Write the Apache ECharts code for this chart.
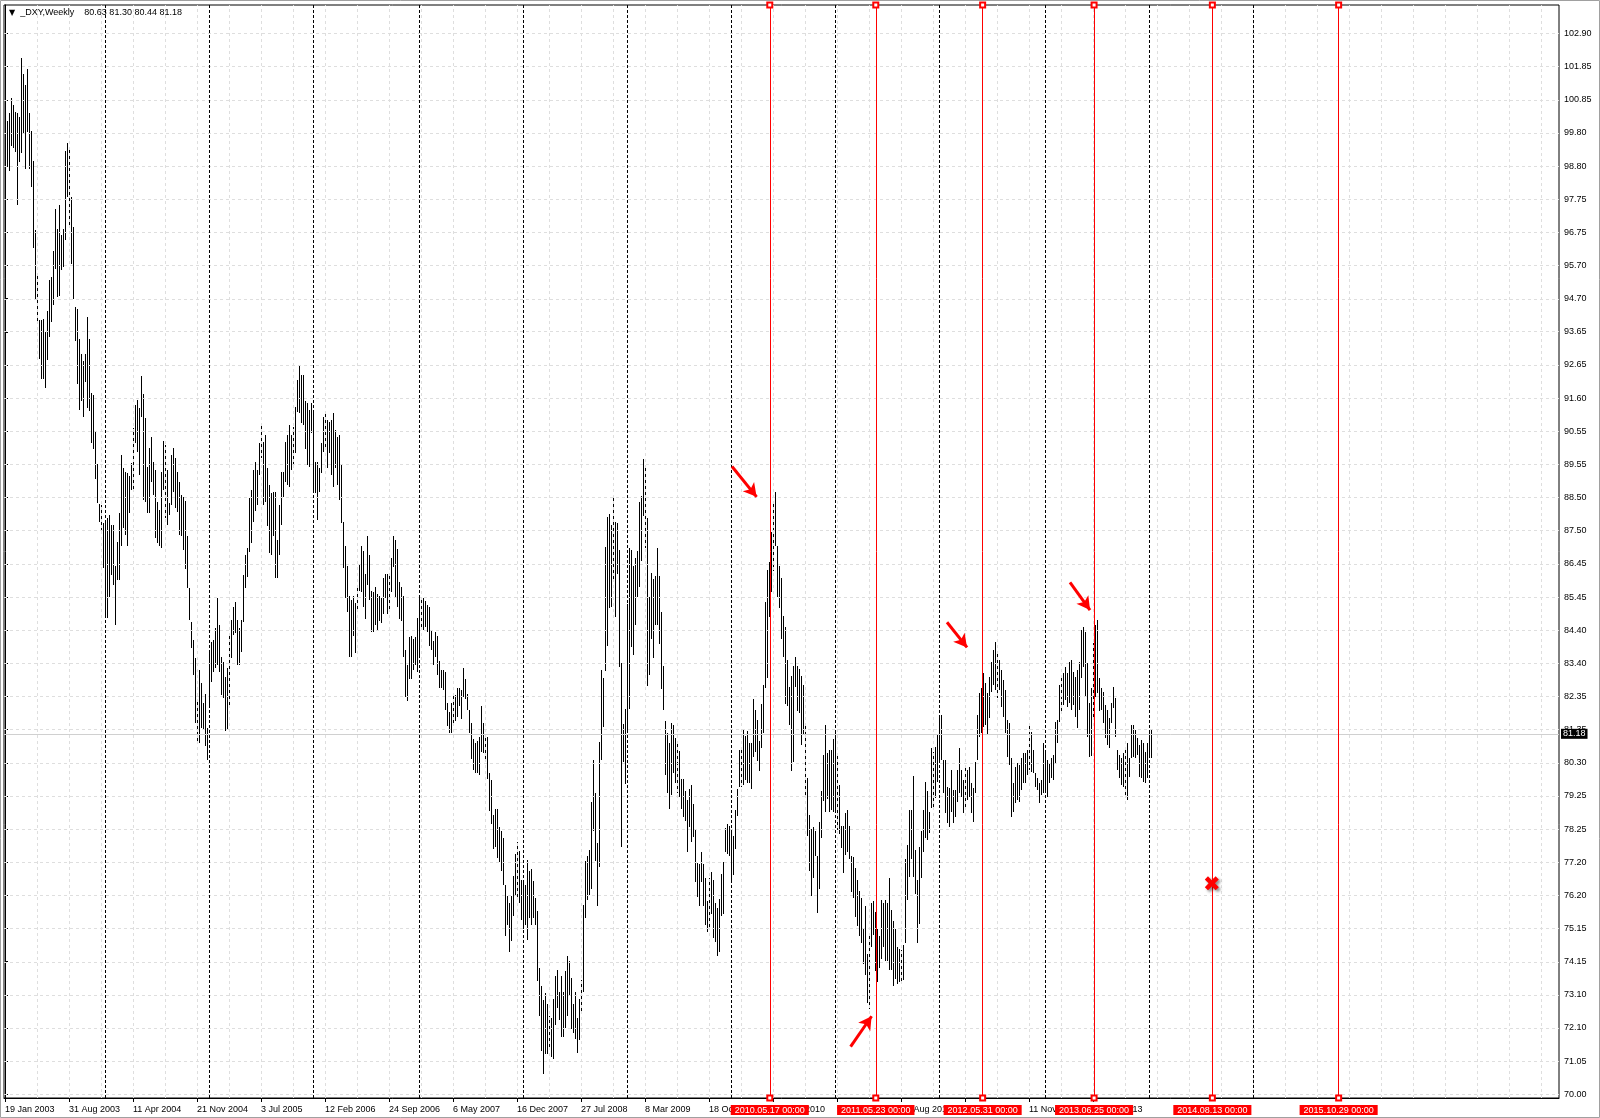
<!DOCTYPE html>
<html lang="en">
<head>
<meta charset="UTF-8">
<title>_DXY,Weekly</title>
<script src="https://cdn.jsdelivr.net/npm/echarts@6/dist/echarts.min.js"></script>
<style>
    html, body { margin: 0; padding: 0; background: #fff; }
    #chart { width: 1600px; height: 1118px; }
</style>
</head>
<body>
<div id="chart"></div>
<script type="text/javascript">
// header of the chart window
const symbolName = '_DXY,Weekly';
const lastBar = [80.63, 81.30, 80.44, 81.18]; // open high low close of the last week
const firstWeek = [2003, 1, 19];               // date of the first weekly bar
const weeksOnScreen = 777;                     // visible weeks incl. empty future

// weekly highs, one per bar from 19 Jan 2003
const highs = [
    // 0
    100.95,100.18,100.42,100.90,100.69,100.48,100.42,100.30,102.14,101.64,
    101.31,101.81,100.42,99.88,98.96,96.82,95.37,94.00,94.00,94.04,
    93.65,94.28,95.27,95.35,96.14,97.45,96.85,97.57,96.65,96.85,
    99.27,99.50,99.39,97.84,96.89,94.42,94.36,93.41,92.97,92.75,
    92.95,94.12,93.41,91.74,91.68,90.56,89.55,88.30,88.28,87.71,
    // 50
    87.80,87.86,87.97,87.66,87.66,86.37,87.14,88.02,89.83,89.42,
    89.31,89.26,89.19,89.57,90.66,91.38,91.53,91.28,92.29,91.71,
    90.97,89.47,90.04,90.40,89.62,89.36,88.38,88.12,89.31,90.26,
    90.14,89.36,88.33,89.83,90.04,89.73,89.31,89.00,88.59,88.54,
    88.40,87.30,85.69,84.66,84.09,83.52,82.18,83.16,82.75,82.13,
    // 100
    82.40,81.35,83.78,84.04,84.09,84.45,85.40,84.56,83.57,83.42,
    82.95,83.21,84.25,84.71,85.12,85.28,84.71,84.45,84.71,86.11,
    86.73,86.93,88.48,88.74,89.36,89.60,89.36,90.19,90.76,90.24,
    90.45,89.42,88.90,88.64,88.69,88.69,87.19,88.28,89.31,89.31,
    90.24,90.45,90.76,90.45,90.71,91.33,92.15,92.62,92.31,92.31,
    // 150
    91.50,91.43,91.22,91.43,91.12,89.62,89.62,89.42,90.19,91.02,
    91.12,90.91,90.86,90.91,91.12,90.60,90.40,90.45,89.52,87.76,
    87.00,86.37,85.46,85.34,85.46,85.23,85.74,86.46,87.02,86.86,
    86.13,87.31,86.74,85.62,85.57,85.74,85.51,85.46,85.40,86.02,
    86.13,86.13,86.18,86.63,87.31,87.19,86.91,85.90,85.74,85.46,
    // 200
    83.77,83.32,84.17,84.22,84.11,84.17,84.78,85.40,85.34,85.40,
    85.29,85.17,85.12,84.39,84.05,84.33,84.22,83.44,83.16,83.16,
    83.10,82.15,81.87,82.15,82.37,82.37,82.60,82.60,82.54,83.21,
    82.88,82.43,81.92,81.53,81.03,80.91,80.97,81.08,82.04,81.53,
    81.14,81.08,79.96,79.74,78.67,78.84,78.84,78.28,78.17,77.94,
    // 250
    76.48,76.15,75.92,76.15,76.77,77.44,77.83,77.55,76.65,76.60,
    76.48,77.27,76.93,76.99,76.60,76.09,75.67,73.92,73.36,72.92,
    73.13,72.79,72.42,72.38,72.97,73.66,73.85,73.16,73.66,73.16,
    73.82,74.28,74.12,73.60,72.79,73.16,72.38,72.97,73.54,75.88,
    77.23,77.38,77.58,79.08,80.36,79.35,77.79,80.92,83.15,82.90,
    // 300
    86.98,87.91,88.01,87.66,88.49,87.74,87.71,86.89,83.38,81.48,
    81.94,85.22,86.94,86.88,86.38,86.63,86.84,88.36,88.55,89.71,
    89.53,87.87,85.43,86.18,85.99,86.06,86.94,86.06,84.96,83.29,
    81.59,81.21,80.90,81.53,81.46,81.06,80.90,80.65,79.78,79.78,
    79.40,79.12,79.47,79.59,78.99,78.21,77.18,77.15,77.53,77.15,
    // 350
    76.71,75.99,76.71,76.90,76.65,75.94,75.78,76.07,76.82,77.20,
    78.26,78.39,78.32,78.17,78.00,78.82,79.48,80.68,80.73,81.33,
    81.11,81.28,80.90,80.90,82.26,81.93,81.60,80.95,82.09,82.70,
    85.26,86.26,86.50,87.44,88.36,88.69,87.00,86.40,86.02,84.82,
    84.49,83.46,82.64,82.97,83.29,83.57,83.29,83.19,82.97,82.70,
    // 400
    81.50,79.81,78.66,78.22,78.28,78.17,77.40,78.44,79.42,80.51,
    81.44,80.57,80.68,80.68,81.01,81.28,80.60,79.59,78.33,78.33,
    78.71,78.82,78.33,77.40,77.35,77.02,76.64,76.31,76.09,75.17,
    75.83,74.35,74.90,75.93,75.99,75.66,75.12,74.90,76.04,75.93,
    76.04,75.93,76.70,75.72,75.39,75.12,74.57,74.52,74.46,74.63,
    // 450
    77.30,77.73,78.82,78.82,79.86,77.57,76.64,77.68,78.17,78.82,
    79.70,79.42,78.77,80.73,80.63,80.78,81.14,81.71,81.76,80.37,
    80.37,79.54,79.49,80.06,79.44,79.44,80.06,80.73,80.06,79.75,
    80.16,80.06,80.16,79.64,79.49,80.32,81.76,82.44,82.60,83.06,
    82.75,82.44,82.95,83.42,83.78,84.04,83.68,83.47,83.16,82.85,
    // 500
    82.54,81.61,81.50,80.42,79.64,80.16,80.26,80.21,80.42,80.57,
    80.57,80.68,81.45,81.25,80.68,79.95,79.80,79.64,79.75,80.88,
    80.68,80.37,80.26,80.42,80.52,81.56,81.61,82.69,82.90,83.06,
    83.26,83.06,83.42,83.47,83.11,82.95,83.16,83.42,84.40,84.50,
    84.35,83.37,82.13,82.60,84.00,84.55,84.71,82.90,82.59,82.49,
    // 550
    82.07,81.92,81.66,82.13,82.64,82.28,80.68,80.52,80.42,80.57,
    80.73,80.88,80.42,81.45,81.45,81.30,81.04,80.83,80.99,80.88,
    80.63,80.88,81.25,81.30
];

// weekly lows, same order
const lows = [
    // 0
    99.11,98.76,98.64,99.41,99.35,99.23,97.57,98.90,99.20,99.77,
    98.70,99.83,98.70,98.13,96.26,94.68,93.94,92.81,92.18,92.18,
    91.90,92.78,93.49,93.94,94.48,95.61,94.72,94.77,95.55,95.67,
    96.50,97.84,96.89,95.75,94.68,93.35,92.04,91.23,91.51,91.00,
    92.10,91.30,91.19,90.20,90.02,89.07,88.33,87.74,87.40,86.31,
    // 50
    84.80,84.76,85.43,86.11,85.80,84.56,85.95,85.95,86.99,87.55,
    87.35,86.99,88.02,88.74,88.74,90.19,89.93,89.21,91.02,88.43,
    88.38,88.02,88.02,89.00,88.59,87.24,87.09,86.99,86.95,88.74,
    87.86,87.66,87.97,88.28,88.69,88.17,88.07,87.35,87.30,86.88,
    86.30,85.69,84.71,83.83,83.00,81.51,80.89,80.89,81.35,81.30,
    // 100
    80.80,80.37,81.97,82.80,83.11,83.21,83.32,83.11,82.38,82.28,
    81.27,81.30,82.02,83.52,84.25,84.30,83.32,83.32,83.73,84.66,
    85.69,86.05,86.83,87.09,87.76,88.10,88.28,89.21,89.73,88.28,
    88.38,87.61,86.78,86.73,87.30,86.00,86.00,86.73,87.66,88.54,
    89.00,88.90,88.85,89.36,89.52,89.88,91.17,91.12,90.81,90.76,
    // 150
    90.00,89.52,89.47,90.50,88.69,88.64,87.81,88.69,89.26,89.93,
    90.09,89.42,89.88,89.21,88.85,89.42,88.90,88.43,87.71,86.31,
    85.40,84.97,83.57,83.57,84.22,83.68,85.01,85.62,85.57,85.12,
    84.73,85.79,85.34,84.33,84.33,84.56,84.39,84.67,84.61,84.89,
    85.40,84.89,85.01,85.57,86.35,85.40,85.12,84.73,84.67,83.55,
    // 200
    82.32,82.20,82.88,82.88,83.16,83.32,83.10,83.55,84.45,84.39,
    84.50,84.33,83.89,83.77,83.32,83.55,82.99,82.60,82.60,82.54,
    81.92,81.42,81.19,81.19,81.47,81.59,81.70,82.04,81.64,82.32,
    82.26,81.92,81.19,80.41,80.07,79.96,79.96,79.90,80.63,80.58,
    80.41,79.79,78.78,78.39,77.61,77.66,77.33,77.21,76.93,76.48,
    // 250
    74.91,75.25,74.41,74.75,75.53,76.15,76.09,75.92,75.42,75.14,
    75.25,74.80,75.48,75.25,75.48,75.25,73.50,72.42,71.35,70.62,
    71.25,71.25,71.36,71.15,71.11,72.15,72.67,72.29,71.79,71.79,
    72.07,72.42,73.04,72.04,71.91,71.72,71.29,71.67,72.54,73.16,
    75.48,76.03,76.19,76.38,78.17,77.23,75.85,77.04,80.38,81.40,
    // 300
    83.12,83.91,85.07,85.12,85.93,84.81,86.14,83.25,77.68,80.31,
    79.62,81.19,81.94,83.88,83.63,84.57,85.43,85.74,86.53,87.94,
    86.93,82.65,83.01,84.12,83.53,84.57,84.57,83.97,82.56,81.91,
    79.90,79.34,78.84,79.28,79.96,79.65,79.34,79.21,78.84,78.59,
    78.47,77.53,78.28,77.84,77.99,76.59,76.11,75.85,76.59,75.85,
    // 350
    75.26,75.03,75.20,75.58,74.84,74.72,74.28,74.41,75.53,75.60,
    77.51,77.44,77.38,76.56,76.80,77.60,78.63,79.53,79.53,79.59,
    79.75,79.64,79.64,79.48,80.46,80.62,80.35,80.02,80.73,81.22,
    82.59,82.91,84.80,85.58,86.24,87.00,85.42,85.09,84.11,83.57,
    82.10,82.04,81.44,80.02,80.30,82.64,81.88,81.82,80.84,81.17,
    // 400
    79.26,78.00,76.92,76.15,76.70,77.40,75.61,76.37,77.95,79.10,
    78.77,79.15,78.77,78.82,78.77,78.82,78.20,78.06,77.63,76.86,
    77.43,77.51,77.30,76.26,76.09,75.49,75.23,74.90,74.68,74.03,
    73.70,72.83,72.66,74.57,74.95,73.81,73.48,73.92,74.19,74.57,
    74.14,74.14,73.86,73.86,73.37,73.59,73.43,73.48,73.48,73.54,
    // 450
    74.68,76.04,76.75,77.30,76.75,76.21,74.68,75.28,76.70,77.51,
    77.95,77.90,78.11,78.88,78.92,79.18,79.70,80.27,80.37,79.33,
    78.71,78.40,78.30,78.77,78.40,78.61,79.08,79.33,79.23,78.71,
    78.87,79.13,79.23,78.71,78.45,79.33,80.37,81.09,81.20,81.40,
    81.45,81.14,81.66,82.49,82.69,82.54,82.28,82.54,82.02,81.71,
    // 500
    81.20,80.47,80.21,78.61,78.77,79.02,79.13,79.08,79.44,79.64,
    79.64,79.90,80.06,80.01,79.95,79.54,79.44,79.02,79.28,79.33,
    79.39,79.23,79.64,79.80,79.75,80.26,80.88,81.56,81.87,82.07,
    82.23,82.02,82.13,81.92,82.07,81.71,81.35,81.92,82.90,83.26,
    82.33,81.09,80.47,80.50,81.60,82.33,82.44,81.90,81.92,81.50,
    // 550
    81.04,80.83,80.73,81.50,81.97,81.09,80.06,79.80,79.59,79.54,
    79.18,79.13,79.85,80.42,80.47,80.42,80.52,79.85,79.80,79.70,
    79.64,79.80,80.42,80.44
];

// price scale of the right axis
const yTickLabels = [
    '70.00','71.05','72.10','73.10','74.15','75.15','76.20','77.20','78.25','79.25',
    '80.30','81.35','82.35','83.40','84.40','85.45','86.45','87.50','88.50','89.55',
    '90.55','91.60','92.65','93.65','94.70','95.70','96.75','97.75','98.80','99.80',
    '100.85','101.85','102.90'
];
const yFirstTick = 70, yStep = 32.9 / 32;
const yMin = 69.885, yMax = 103.784;

// vertical line objects, arrows [week, price -> week, price], cross
const redLineDates = ['2010-05-17', '2011-05-23', '2012-05-31', '2013-06-25', '2014-08-13', '2015-10-29'];
const arrows = [
    [363.5, 89.47, 375.8, 88.53],
    [471.0, 84.64, 481.0, 83.86],
    [532.5, 85.88, 542.5, 85.02],
    [422.8, 71.48, 433.3, 72.42]
];
const crossMark = ['2014-08-13', 76.46];

const DAY = 86400000, WEEK = 7 * DAY;
const HALF_PX = 0.25; // a quarter week = half a pixel, keeps 1px lines on a pixel column
const t0 = Date.UTC(firstWeek[0], firstWeek[1] - 1, firstWeek[2]);
const MON = ['Jan', 'Feb', 'Mar', 'Apr', 'May', 'Jun', 'Jul', 'Aug', 'Sep', 'Oct', 'Nov', 'Dec'];

function weekTime(i) { return t0 + i * WEEK; }
function weekOf(s) { let p = s.split('-'); return (Date.UTC(+p[0], +p[1] - 1, +p[2]) - t0) / WEEK; }
function dmy(i) {
    let d = new Date(weekTime(Math.round(i)));
    return d.getUTCDate() + ' ' + MON[d.getUTCMonth()] + ' ' + d.getUTCFullYear();
}
function stamp(s) { return s.replace(/-/g, '.') + ' 00:00'; }

// x is the week number counted from the first bar
let bars = highs.map(function (h, i) { return [i, h, lows[i]]; });

// date labels every 32 weeks while there are bars
let labelWeeks = [];
for (let i = 0; i < highs.length; i += 32) labelWeeks.push(i);

let yTicks = yTickLabels.map(function (s, k) { return yFirstTick + k * yStep; });

// grey grid every 16 weeks, black separators at the first bar of each year
let gridLines = [];
for (let i = 16; i <= weeksOnScreen; i += 16) gridLines.push({xAxis: i + HALF_PX});
yTicks.forEach(function (v) { gridLines.push({yAxis: v}); });

let separators = [];
for (let i = 1; i <= weeksOnScreen; i++) {
    let y = new Date(weekTime(i)).getUTCFullYear();
    if (y > 2015) break;
    if (y !== new Date(weekTime(i - 1)).getUTCFullYear()) separators.push({xAxis: i + HALF_PX});
}

let dom = document.getElementById('chart');
let myChart = echarts.init(dom);
let option = {
    animation: false,
    backgroundColor: '#fff',
    textStyle: {fontFamily: 'Liberation Sans, Arial, sans-serif'},
    title: {
        left: 9,
        top: 8,
        padding: 0,
        text: '{tri|▼}  ' + symbolName + '    ' + lastBar.map(function (v) { return v.toFixed(2); }).join(' '),
        textStyle: {
            fontSize: 9, fontWeight: 'normal', color: '#000',
            rich: {tri: {fontSize: 8, fontFamily: 'DejaVu Sans', color: '#000'}}
        }
    },
    graphic: [{
        type: 'rect', silent: true,
        shape: {x: 0.5, y: 0.5, width: 1599, height: 1117},
        style: {fill: null, stroke: '#a0a0a0', lineWidth: 1}
    }],
    grid: {left: 4, right: 41, top: 5, bottom: 20, show: true, borderColor: '#000', borderWidth: 1, backgroundColor: '#fff'},
    xAxis: {
        type: 'value',
        min: -0.5,
        max: weeksOnScreen,
        splitLine: {show: false},
        axisLine: {lineStyle: {color: '#000', width: 1}},
        axisTick: {customValues: labelWeeks, length: 4, lineStyle: {color: '#000'}},
        axisLabel: {customValues: labelWeeks, formatter: dmy, align: 'left', color: '#000', fontSize: 9, margin: 7}
    },
    yAxis: {
        type: 'value',
        position: 'right',
        min: yMin,
        max: yMax,
        splitLine: {show: false},
        axisLine: {show: true, lineStyle: {color: '#000', width: 1}},
        axisTick: {show: true, customValues: yTicks, length: 3, lineStyle: {color: '#000'}},
        axisLabel: {
            customValues: yTicks, color: '#000', fontSize: 9, margin: 5,
            formatter: function (v) { return yTickLabels[Math.round((v - yFirstTick) / yStep)]; }
        }
    },
    series: [
        {
            name: 'grid', type: 'line', data: [], z: 1, silent: true,
            markLine: {
                silent: true, symbol: 'none', label: {show: false},
                lineStyle: {color: '#dedede', type: [3, 3], width: 1},
                data: gridLines
            }
        },
        {
            name: 'separators', type: 'line', data: [], z: 1, silent: true,
            markLine: {
                silent: true, symbol: 'none', label: {show: false},
                lineStyle: {color: '#000', type: [3, 2], width: 1},
                data: separators
            }
        },
        {
            name: 'bid', type: 'line', data: [], z: 1, silent: true,
            markLine: {
                silent: true, symbol: 'none',
                lineStyle: {color: '#d0d0d0', type: 'solid', width: 1},
                label: {
                    show: true, position: 'end', distance: 2,
                    formatter: lastBar[3].toFixed(2),
                    color: '#fff', backgroundColor: '#000', padding: [1, 2, 0, 2], fontSize: 9
                },
                data: [{yAxis: lastBar[3]}]
            }
        },
        {
            name: symbolName, type: 'custom', z: 2,
            encode: {x: 0, y: [1, 2]},
            data: bars,
            renderItem: function (params, api) {
                let hi = api.coord([api.value(0), api.value(1)]);
                let lo = api.coord([api.value(0), api.value(2)]);
                let x = Math.round(hi[0]) + 0.5;
                return {
                    type: 'line',
                    shape: {x1: x, y1: Math.round(hi[1]), x2: x, y2: Math.round(lo[1])},
                    style: {stroke: '#000', lineWidth: 1}
                };
            }
        },
        {
            name: 'vlines', type: 'line', data: [], z: 3, silent: true,
            markLine: {
                silent: true,
                symbol: ['emptyRect', 'emptyRect'], symbolSize: 5,
                lineStyle: {color: '#ff0000', type: 'solid', width: 1},
                itemStyle: {color: '#ff0000'},
                label: {
                    show: true, position: 'start', distance: 7,
                    color: '#fff', backgroundColor: '#ff0000', padding: [1, 4, 0, 4], fontSize: 9
                },
                data: redLineDates.map(function (s) {
                    return {xAxis: weekOf(s) + HALF_PX, label: {formatter: stamp(s)}};
                })
            }
        },
        {
            name: 'arrows', type: 'line', data: [], z: 4, silent: true,
            markLine: {
                silent: true,
                symbol: ['none', 'arrow'], symbolSize: [11, 13],
                lineStyle: {color: '#ff0000', type: 'solid', width: 3},
                itemStyle: {color: '#ff0000'},
                label: {show: false},
                data: arrows.map(function (a) {
                    return [{coord: [a[0], a[1]]}, {coord: [a[2], a[3]]}];
                })
            },
            markPoint: {
                silent: true, symbol: 'circle', symbolSize: 1,
                itemStyle: {color: 'rgba(0,0,0,0)'},
                label: {
                    show: true, position: 'inside', formatter: '✖',
                    fontSize: 21, fontFamily: 'DejaVu Sans', color: '#ff0000',
                    textShadowColor: 'rgba(0,0,0,0.45)', textShadowBlur: 3,
                    textShadowOffsetX: 2, textShadowOffsetY: 2
                },
                data: [{coord: [weekOf(crossMark[0]), crossMark[1]]}]
            }
        }
    ]
};
myChart.setOption(option, true);
</script>
</body>
</html>
